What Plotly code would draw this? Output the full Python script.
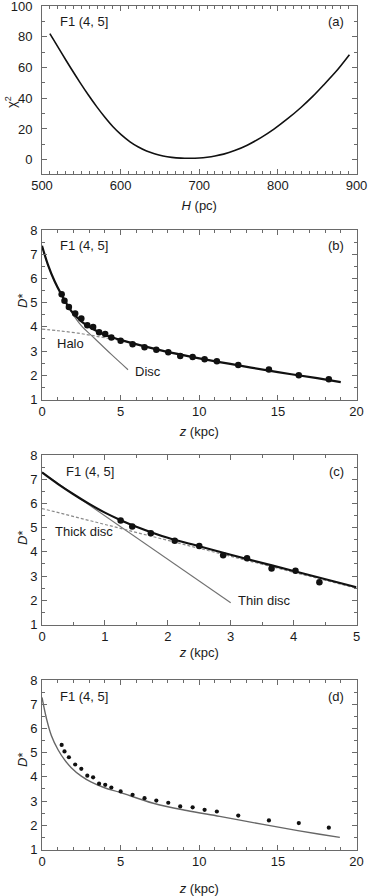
import plotly.graph_objects as go

# ---------------- data ----------------
# Panel (a): chi^2 vs scale height H (pc)
H_pc = [510, 525, 537, 548, 559, 570, 580, 590, 601, 612, 622, 633, 643, 654, 665, 677, 688,
        700, 710, 720, 731, 745, 761, 778, 795, 812, 829, 844, 858, 875, 891]
chi2 = [82, 69.3, 59.3, 50.5, 42.1, 34.2, 27.6, 21.6, 16.1, 11.6, 8.4, 5.65, 3.85, 2.4, 1.5, 1.0, 0.9,
        1.1, 1.6, 2.4, 3.6, 5.9, 9.4, 14.2, 19.9, 26.5, 33.8, 41.0, 48.5, 58.0, 68.3]

# Panel (b): D* vs z (kpc), 0-20 kpc
z_obs = [1.25, 1.43, 1.71, 2.11, 2.50, 2.88, 3.25, 3.63, 4.02, 4.41, 5.0, 5.76, 6.52,
         7.27, 8.03, 8.79, 9.58, 10.34, 11.12, 12.48, 14.43, 16.33, 18.24]
D_obs_b = [5.35, 5.08, 4.82, 4.55, 4.34, 4.07, 3.99, 3.78, 3.71, 3.56, 3.43, 3.28, 3.16,
           3.05, 2.95, 2.80, 2.76, 2.66, 2.58, 2.42, 2.24, 2.00, 1.84]
z_tot_b = [0, 0.38, 0.81, 1.23, 1.86, 2.5, 3.13, 3.98, 5.04, 7.5, 10, 12.5, 15, 17.5, 19]
D_tot_b = [7.35, 6.56, 5.87, 5.34, 4.66, 4.23, 3.95, 3.67, 3.45, 3.04, 2.70, 2.41, 2.13, 1.88, 1.72]
z_halo = [0, 1.02, 2.29, 3.56, 4.62, 5.5]
D_halo = [3.91, 3.84, 3.74, 3.60, 3.48, 3.38]
z_disc = [0, 0.38, 0.81, 1.23, 1.86, 2.5, 3.35, 4.41, 5.47]
D_disc = [7.34, 6.55, 5.86, 5.33, 4.62, 4.05, 3.52, 2.86, 2.23]

# Panel (c): D* vs z (kpc), 0-5 kpc
z_obs_c = [1.25, 1.435, 1.73, 2.11, 2.50, 2.88, 3.26, 3.65, 4.03, 4.41]
D_obs_c = [5.30, 5.05, 4.77, 4.46, 4.24, 3.86, 3.74, 3.31, 3.22, 2.74]
z_tot_c = [0, 0.25, 0.5, 0.75, 1.0, 1.26, 1.5, 2.0, 2.5, 3.0, 4.0, 5.0]
D_tot_c = [7.28, 6.81, 6.38, 5.98, 5.62, 5.30, 5.04, 4.58, 4.23, 3.88, 3.21, 2.54]
z_thin = [0, 3.0]
D_thin = [7.28, 1.90]
z_thick = [0, 5.0]
D_thick = [5.79, 2.50]

# Panel (d): D* vs z (kpc), 0-20 kpc
D_obs_d = [5.32, 5.05, 4.81, 4.51, 4.33, 4.05, 3.98, 3.72, 3.67, 3.56, 3.40, 3.26, 3.12,
           3.02, 2.93, 2.78, 2.74, 2.64, 2.57, 2.40, 2.20, 2.09, 1.90]
z_mod_d = [0, 0.28, 0.6, 1.02, 1.44, 1.86, 2.5, 3.14, 3.98, 4.96, 7.08, 9.2, 11.3, 13.43, 15.56, 17.67, 18.94]
D_mod_d = [7.28, 6.42, 5.70, 5.12, 4.70, 4.38, 4.03, 3.78, 3.55, 3.36, 2.91, 2.61, 2.37, 2.11, 1.86, 1.63, 1.50]

panel_tags = ["(a)", "(b)", "(c)", "(d)"]
field_label = "F1 (4, 5]"
y_titles = ["χ<sup>2</sup>", "<i>D</i>*", "<i>D</i>*", "<i>D</i>*"]

# ---------------- styling ----------------
FONT = "Liberation Sans, Arial, Helvetica, sans-serif"
W, Hfig = 368, 896
AX = "#6a6a6a"
TXT = "#1a1a1a"

def px_x(p):
    return p / W

def px_y(p):
    return 1 - p / Hfig

xdom = [px_x(42), px_x(356.5)]
tops = [6, 230, 455, 680]
bots = [173.5, 399.5, 624.5, 849.5]
ydoms = [[px_y(b), px_y(t)] for t, b in zip(tops, bots)]

fig = go.Figure()

# (a)
fig.add_trace(go.Scatter(x=H_pc, y=chi2, mode="lines", xaxis="x", yaxis="y",
                         line=dict(color="#111111", width=1.6, shape="spline", smoothing=0.8),
                         showlegend=False, hoverinfo="skip"))
# (b)
fig.add_trace(go.Scatter(x=z_disc, y=D_disc, mode="lines", xaxis="x2", yaxis="y2",
                         line=dict(color="#707070", width=1.1, shape="spline"),
                         showlegend=False, hoverinfo="skip"))
fig.add_trace(go.Scatter(x=z_halo, y=D_halo, mode="lines", xaxis="x2", yaxis="y2",
                         line=dict(color="#8a8a8a", width=1.2, dash="3px,2px", shape="spline"),
                         showlegend=False, hoverinfo="skip"))
fig.add_trace(go.Scatter(x=z_tot_b, y=D_tot_b, mode="lines", xaxis="x2", yaxis="y2",
                         line=dict(color="#111111", width=2.2, shape="spline"),
                         showlegend=False, hoverinfo="skip"))
fig.add_trace(go.Scatter(x=z_obs, y=D_obs_b, mode="markers", xaxis="x2", yaxis="y2",
                         marker=dict(color="#111111", size=6.5),
                         showlegend=False, hoverinfo="skip"))
# (c)
fig.add_trace(go.Scatter(x=z_thin, y=D_thin, mode="lines", xaxis="x3", yaxis="y3",
                         line=dict(color="#707070", width=1.1),
                         showlegend=False, hoverinfo="skip"))
fig.add_trace(go.Scatter(x=z_thick, y=D_thick, mode="lines", xaxis="x3", yaxis="y3",
                         line=dict(color="#8a8a8a", width=1.2, dash="3px,2px"),
                         showlegend=False, hoverinfo="skip"))
fig.add_trace(go.Scatter(x=z_tot_c, y=D_tot_c, mode="lines", xaxis="x3", yaxis="y3",
                         line=dict(color="#111111", width=2.2, shape="spline"),
                         showlegend=False, hoverinfo="skip"))
fig.add_trace(go.Scatter(x=z_obs_c, y=D_obs_c, mode="markers", xaxis="x3", yaxis="y3",
                         marker=dict(color="#111111", size=6.5),
                         showlegend=False, hoverinfo="skip"))
# (d)
fig.add_trace(go.Scatter(x=z_mod_d, y=D_mod_d, mode="lines", xaxis="x4", yaxis="y4",
                         line=dict(color="#666666", width=1.4, shape="spline"),
                         showlegend=False, hoverinfo="skip"))
fig.add_trace(go.Scatter(x=z_obs, y=D_obs_d, mode="markers", xaxis="x4", yaxis="y4",
                         marker=dict(color="#111111", size=4.2),
                         showlegend=False, hoverinfo="skip"))

tickfont = dict(family=FONT, size=13, color=TXT)
titlefont = dict(family=FONT, size=13, color=TXT)

def xaxis(rng, dtick, mdtick, title, anchor, standoff):
    return dict(domain=xdom, range=rng, anchor=anchor, dtick=dtick, tick0=rng[0],
                automargin=False, ticklabeloverflow="allow",
                showline=True, linecolor=AX, linewidth=1, mirror="ticks",
                ticks="inside", ticklen=5, tickwidth=1, tickcolor=AX,
                ticklabelstandoff=0,
                minor=dict(dtick=mdtick, ticks="inside", ticklen=3, tickcolor=AX, tickwidth=1),
                showgrid=False, zeroline=False, tickfont=tickfont,
                title=dict(text=title, font=titlefont, standoff=standoff))

def yaxis(dom, rng, dtick, mdtick, anchor, tick0, lstand):
    return dict(domain=dom, range=rng, anchor=anchor, dtick=dtick, tick0=tick0,
                automargin=False, ticklabeloverflow="allow",
                showline=True, linecolor=AX, linewidth=1, mirror="ticks",
                ticks="inside", ticklen=5, tickwidth=1, tickcolor=AX,
                ticklabelstandoff=lstand,
                minor=dict(dtick=mdtick, ticks="inside", ticklen=3, tickcolor=AX, tickwidth=1),
                showgrid=False, zeroline=False, tickfont=tickfont)

ztitle = "<i>z</i> (kpc)"

fig.update_layout(
    width=W, height=Hfig,
    margin=dict(l=0, r=0, t=0, b=0, autoexpand=False),
    paper_bgcolor="white", plot_bgcolor="white",
    font=dict(family=FONT, size=13, color=TXT),
    xaxis=xaxis([500, 900], 100, 10, "<i>H</i> (pc)", "y", 8),
    yaxis=yaxis(ydoms[0], [-9, 100], 20, 10, "x", 0, 6),
    xaxis2=xaxis([0, 20], 5, 1, ztitle, "y2", 8),
    yaxis2=yaxis(ydoms[1], [1, 8], 1, 0.5, "x2", 1, 1),
    xaxis3=xaxis([0, 5], 1, 0.5, ztitle, "y3", 4),
    yaxis3=yaxis(ydoms[2], [1, 8], 1, 0.5, "x3", 1, 1),
    xaxis4=xaxis([0, 20], 5, 1, ztitle, "y4", 16),
    yaxis4=yaxis(ydoms[3], [1, 8], 1, 0.5, "x4", 1, 1),
)

ann = []
ytitle_pos = [(11, 102), (22, 301), (22, 538), (22, 760)]
for i, top in enumerate(tops):
    ann.append(dict(text=field_label, xref="paper", yref="paper",
                    x=px_x(58 if i != 2 else 64), y=px_y(top + 16),
                    xanchor="left", yanchor="middle", showarrow=False,
                    font=dict(family=FONT, size=13, color=TXT)))
    ann.append(dict(text=panel_tags[i], xref="paper", yref="paper",
                    x=px_x(346), y=px_y(top + 16),
                    xanchor="right", yanchor="middle", showarrow=False,
                    font=dict(family=FONT, size=13, color=TXT)))
    tx, ty = ytitle_pos[i]
    ann.append(dict(text=y_titles[i], xref="paper", yref="paper",
                    x=px_x(tx), y=px_y(ty), textangle=-90,
                    xanchor="center", yanchor="middle", showarrow=False,
                    font=dict(family=FONT, size=13, color=TXT)))
# component labels
ann += [
    dict(text="Halo", xref="x2", yref="y2", x=0.8, y=3.33, xanchor="left", yanchor="middle",
         showarrow=False, font=dict(family=FONT, size=13, color=TXT)),
    dict(text="Disc", xref="x2", yref="y2", x=5.8, y=2.14, xanchor="left", yanchor="middle",
         showarrow=False, font=dict(family=FONT, size=13, color=TXT)),
    dict(text="Thick disc", xref="x3", yref="y3", x=0.17, y=4.83, xanchor="left", yanchor="middle",
         showarrow=False, font=dict(family=FONT, size=13, color=TXT)),
    dict(text="Thin disc", xref="x3", yref="y3", x=3.08, y=2.0, xanchor="left", yanchor="middle",
         showarrow=False, font=dict(family=FONT, size=13, color=TXT)),
]
fig.update_layout(annotations=ann)

fig.write_html("out.html", config={"displayModeBar": False},
               post_script="document.body.style.margin='0';")
